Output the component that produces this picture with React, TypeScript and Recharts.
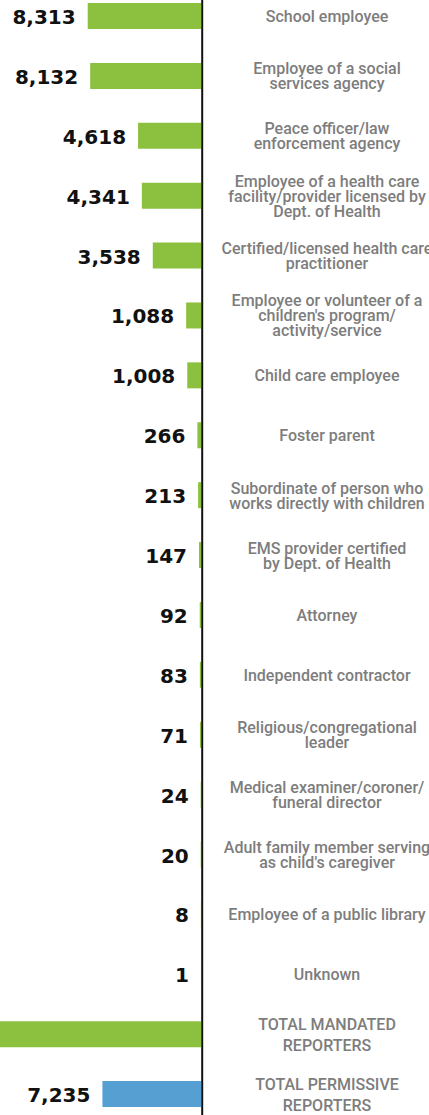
import React from 'react';
import { BarChart, Bar, XAxis, YAxis, Cell, LabelList, ReferenceLine } from 'recharts';

const categories: string[] = [
  'School employee',
  'Employee of a social\nservices agency',
  'Peace officer/law\nenforcement agency',
  'Employee of a health care\nfacility/provider licensed by\nDept. of Health',
  'Certified/licensed health care\npractitioner',
  "Employee or volunteer of a\nchildren's program/\nactivity/service",
  'Child care employee',
  'Foster parent',
  'Subordinate of person who\nworks directly with children',
  'EMS provider certified\nby Dept. of Health',
  'Attorney',
  'Independent contractor',
  'Religious/congregational\nleader',
  'Medical examiner/coroner/\nfuneral director',
  "Adult family member serving\nas child's caregiver",
  'Employee of a public library',
  'Unknown',
  'TOTAL MANDATED\nREPORTERS',
  'TOTAL PERMISSIVE\nREPORTERS',
];

const reportValues: number[] = [
  8313, 8132, 4618, 4341, 3538, 1088, 1008, 266, 213, 147, 92, 83, 71, 24, 20, 8, 1, 31963, 7235,
];

const valueLabels: string[] = [
  '8,313', '8,132', '4,618', '4,341', '3,538', '1,088', '1,008', '266', '213', '147', '92', '83', '71', '24', '20', '8', '1', '31,963', '7,235',
];

const data = categories.map((name, i) => ({ name, value: reportValues[i], label: valueLabels[i] }));

const X_MAX = 14750;
const PLOT_W = 201;
const AXIS_OFFSET = -(X_MAX / PLOT_W) * 1.2;
const GREEN = '#8cc13f';
const BLUE = '#569fd3';

const CategoryTick = (props: any) => {
  const { x, y, payload } = props;
  const text: string = payload.value;
  const lines = text.split('\n');
  const isTotal = text.startsWith('TOTAL');
  const lh = isTotal ? 21 : 15;
  const first = y + 6 - ((lines.length - 1) * lh) / 2;
  const cx = x + 126;
  return (
    <text
      x={cx}
      y={first}
      textAnchor="middle"
      fill="#7d7d7d"
      fontFamily="Roboto, 'Liberation Sans', sans-serif"
      fontWeight={500}
      fontSize={16}
    >
      {lines.map((l, i) => (
        <tspan key={i} x={cx} y={first + i * lh}>
          {l}
        </tspan>
      ))}
    </text>
  );
};

const ValueLabel = (props: any) => {
  const { x, y, width, height, index } = props;
  const v = reportValues[index];
  if (v > X_MAX) return null;
  const left = Math.min(x, x + width);
  return (
    <text
      x={left - 12}
      y={y + height / 2 + 8}
      textAnchor="end"
      fill="#111"
      fontFamily="'DejaVu Sans', sans-serif"
      fontWeight={700}
      fontSize={20}
    >
      {valueLabels[index]}
    </text>
  );
};

export default function App() {
  return (
    <div
      style={{
        position: 'fixed',
        left: 0,
        top: 0,
        width: 429,
        height: 1115,
        overflow: 'hidden',
        background: '#fff',
      }}
    >
      <div style={{ marginTop: -14 }}>
        <BarChart
          width={429}
          height={1138}
          data={data}
          layout="vertical"
          margin={{ top: 0, right: 0, bottom: 0, left: 0 }}
          barSize={26}
        >
          <XAxis type="number" hide reversed domain={[0, X_MAX]} allowDataOverflow />
          <YAxis
            type="category"
            dataKey="name"
            orientation="right"
            width={429 - PLOT_W}
            tickLine={false}
            tickSize={0}
            tickMargin={0}
            axisLine={false}
            tick={<CategoryTick />}
            interval={0}
          />
          <Bar dataKey="value" isAnimationActive={false}>
            {data.map((d, i) => (
              <Cell key={d.name} fill={i === data.length - 1 ? BLUE : GREEN} />
            ))}
            <LabelList dataKey="value" content={<ValueLabel />} />
          </Bar>
          <ReferenceLine x={AXIS_OFFSET} stroke="#111" strokeWidth={2} ifOverflow="visible" />
        </BarChart>
      </div>
    </div>
  );
}
